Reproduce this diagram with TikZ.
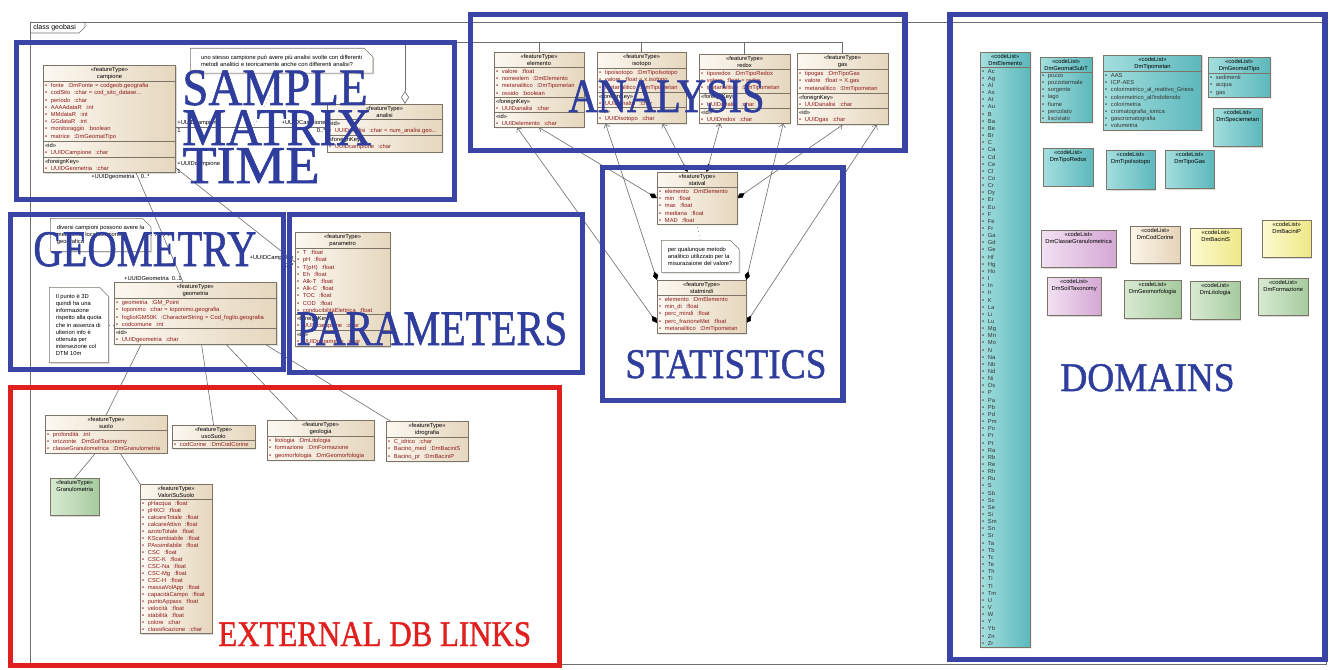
\documentclass[tikz,border=0pt]{standalone}
\usepackage{fontspec}
\usepackage{graphicx}
\setmainfont{Liberation Serif}
\newfontfamily\umlfont{Liberation Sans}
\newfontfamily\bigserif[FakeBold=1.2]{Liberation Serif}
\usepackage{tikz}
\usetikzlibrary{shapes.multipart}
\usetikzlibrary{shapes.misc}
\usetikzlibrary{shadows}
\usetikzlibrary{arrows.meta}
\usetikzlibrary{backgrounds}

\definecolor{frameblue}{HTML}{3A44A4}
\definecolor{labelblue}{HTML}{2F3D9C}
\definecolor{framered}{HTML}{E0201E}
\definecolor{ftlight}{HTML}{FCF8F1}
\definecolor{ftdark}{HTML}{E6D7BE}
\definecolor{umlline}{HTML}{7D7468}
\definecolor{attrred}{HTML}{8E1B1B}
\definecolor{litgray}{HTML}{333333}
\definecolor{linegray}{HTML}{6E6E6E}
\definecolor{teallight}{HTML}{A4DEDE}
\definecolor{tealdark}{HTML}{5CB8BC}
\definecolor{pinklight}{HTML}{F2E0F2}
\definecolor{pinkdark}{HTML}{D4A8D4}
\definecolor{yellowlight}{HTML}{FCFAD0}
\definecolor{yellowdark}{HTML}{EEE886}
\definecolor{greenlight}{HTML}{D8EAD2}
\definecolor{greendark}{HTML}{A6CB9F}
\definecolor{cornlight}{HTML}{FBF4EA}
\definecolor{corndark}{HTML}{E6D3B8}

\newcommand\umltext{\umlfont\fontsize{3.3}{4.1}\selectfont}
\newcommand\uattr[1]{\textcolor{attrred}{\textbullet\hspace{2.2pt}#1}}
\newcommand\ulit[1]{\textcolor{litgray}{\textbullet\hspace{2.2pt}#1}}
\newcommand\fthead[2]{\makebox[\hsize]{#1}\\\makebox[\hsize]{#2}}
\newcommand\arealabel[3]{\resizebox{#1pt}{#2pt}{\bigserif\fontsize{30}{30}\selectfont #3}}

\tikzset{
  ft/.style={rectangle split, rectangle split parts=#1, draw=umlline, line width=0.3pt,
    left color=ftlight, right color=ftdark, anchor=north west, align=left,
    inner xsep=1pt, inner ysep=0.9pt, font=\umltext,
    drop shadow={shadow xshift=0.7pt, shadow yshift=-0.7pt, opacity=0.3}},
  cl/.style={ft=#1, left color=teallight, right color=tealdark},
  pinkfill/.style={left color=pinklight, right color=pinkdark},
  yellowfill/.style={left color=yellowlight, right color=yellowdark},
  greenfill/.style={left color=greenlight, right color=greendark},
  cornfill/.style={left color=cornlight, right color=corndark},
  nohead/.style={rectangle split draw splits=false},
  note/.style={chamfered rectangle, chamfered rectangle corners=north east,
    chamfered rectangle xsep=2.5pt, chamfered rectangle ysep=2.5pt,
    draw=umlline, fill=white, line width=0.3pt, anchor=north west, align=left,
    inner sep=1.3pt, font=\umltext,
    drop shadow={shadow xshift=0.7pt, shadow yshift=-0.7pt, opacity=0.3}},
  assoc/.style={draw=linegray, line width=0.35pt},
  comp/.style={assoc, {Diamond[color=black, length=5pt, width=3pt]}-{Straight Barb[length=2pt, width=3.5pt]}},
  aggr/.style={assoc, {Diamond[fill=white, length=7.5pt, width=4.5pt]}-},
  notelink/.style={assoc, dotted},
  mult/.style={font=\umltext, inner sep=0.6pt},
  bluebox/.style={draw=frameblue, line width=3.4pt},
  redbox/.style={draw=framered, line width=3pt},
  biglabel/.style={text=labelblue, anchor=base west, inner sep=0pt},
}

\begin{document}
\begin{tikzpicture}[x=0.02cm, y=-0.02cm]
\useasboundingbox (0,0) rectangle (1331,669);

% diagram frame
\node[font=\umlfont\fontsize{4}{4.5}\selectfont, anchor=west, inner sep=0pt] (frametag) at (33,28) {class geobasi};

% sample, matrix, time
\node[ft=4, text width=73.4pt] (campione) at (43,65) {\fthead{«featureType»}{campione}
  \nodepart{two}\uattr{fonte \ :DmFonte = codgeob.geografia}\\\uattr{codSito \ :char = cod\_sito\_datase...}\\\uattr{periodo \ :char}\\\uattr{AAAAdataR \ :int}\\\uattr{MMdataR \ :int}\\\uattr{GGdataR \ :int}\\\uattr{monitoraggio \ :boolean}\\\uattr{matrice \ :DmGeomatTipo}
  \nodepart{three}«id»\\\uattr{UUIDCampione \ :char}
  \nodepart{four}«foreignKey»\\\uattr{UUIDGeometria \ :char}};
\node[note, minimum width=104pt, minimum height=14pt] (note1) at (190,48) {uno stesso campione può avere più analisi svolte con differenti\\metodi analitici e teoricamente anche con differenti analisi?};
\node[ft=3, text width=63.2pt] (analisi) at (327,104) {\fthead{«featureType»}{analisi}
  \nodepart{two}«id»\\\uattr{UUIDanalisi \ :char = num\_analisi.geo...}
  \nodepart{three}«foreignKey»\\\uattr{UUIDcampione \ :char}};

% analysis
\node[ft=4, text width=49pt] (elemento) at (494,52) {\fthead{«featureType»}{elemento}
  \nodepart{two}\uattr{valore \ :float}\\\uattr{nomeelem \ :DmElemento}\\\uattr{metanalitico \ :DmTipometan}\\\uattr{ossido \ :boolean}
  \nodepart{three}«foreignKey»\\\uattr{UUIDanalisi \ :char}
  \nodepart{four}«id»\\\uattr{UUIDelemento \ :char}};
\node[ft=4, text width=48.5pt] (isotopo) at (597,52) {\fthead{«featureType»}{isotopo}
  \nodepart{two}\uattr{tipoisotopo \ :DmTipoIsotopo}\\\uattr{valore \ :float = x.isotopo}\\\uattr{metanalitico \ :DmTipometan}
  \nodepart{three}«foreignKey»\\\uattr{UUIDanalisi \ :char}
  \nodepart{four}«id»\\\uattr{UUIDisotopo \ :char}};
\node[ft=4, text width=49.6pt] (redox) at (699,54) {\fthead{«featureType»}{redox}
  \nodepart{two}\uattr{tiporedox \ :DmTipoRedox}\\\uattr{valore \ :float = redox}\\\uattr{metanalitico \ :DmTipometan}
  \nodepart{three}«foreignKey»\\\uattr{UUIDanalisi \ :char}
  \nodepart{four}«id»\\\uattr{UUIDredox \ :char}};
\node[ft=4, text width=49.6pt] (gas) at (797,53) {\fthead{«featureType»}{gas}
  \nodepart{two}\uattr{tipogas \ :DmTipoGas}\\\uattr{valore \ :float = X.gas}\\\uattr{metanalitico \ :DmTipometan}
  \nodepart{three}«foreignKey»\\\uattr{UUIDanalisi \ :char}
  \nodepart{four}«id»\\\uattr{UUIDgas \ :char}};

% statistics
\node[ft=2, text width=43.4pt] (statval) at (657,172) {\fthead{«featureType»}{statval}
  \nodepart{two}\uattr{elemento \ :DmElemento}\\\uattr{min \ :float}\\\uattr{max \ :float}\\\uattr{mediana \ :float}\\\uattr{MAD \ :float}};
\node[note, minimum width=41pt] (note2) at (661,240) {per qualunque metodo\\analitico utilizzato per la\\misurazaione del valore?};
\node[ft=2, text width=48.5pt] (statmindi) at (657,280) {\fthead{«featureType»}{statmindi}
  \nodepart{two}\uattr{elemento \ :DmElemento}\\\uattr{min\_di \ :float}\\\uattr{perc\_mindi \ :float}\\\uattr{perc\_frazioneMet \ :float}\\\uattr{metanalitico \ :DmTipometan}};

% geometry
\node[note, minimum width=53pt] (note3) at (50,218) {diversi campioni possono avere la\\medesima localizzazione\\geografica};
\node[note, minimum width=30pt] (note4) at (49,287) {Il punto è 3D\\quindi ha una\\informazione\\rispetto alla quota\\che in assenza di\\ulteriori info è\\ottenuta per\\intersezione col\\DTM 10m};
\node[ft=3, text width=90.4pt] (geometria) at (114,282) {\fthead{«featureType»}{geometria}
  \nodepart{two}\uattr{geometria \ :GM\_Point}\\\uattr{toponimo \ :char = toponimo.geografia}\\\uattr{foglioIGM50K \ :CharacterString = Cod\_foglio.geografia}\\\uattr{codcomune \ :int}
  \nodepart{three}«id»\\\uattr{UUIDgeometria \ :char}};

% parameters
\node[ft=4, text width=51.9pt] (parametro) at (295,232) {\fthead{«featureType»}{parametro}
  \nodepart{two}\uattr{T \ :float}\\\uattr{pH \ :float}\\\uattr{T(pH) \ :float}\\\uattr{Eh \ :float}\\\uattr{Alk-T \ :float}\\\uattr{Alk-C \ :float}\\\uattr{TOC \ :float}\\\uattr{COD \ :float}\\\uattr{conducibilitàElettrica \ :float}
  \nodepart{three}«foreignKey»\\\uattr{UUIDcampione \ :char}
  \nodepart{four}«id»\\\uattr{UUIDparametro \ :char}};

% external db links
\node[ft=2, text width=67.2pt] (suolo) at (45,415) {\fthead{«featureType»}{suolo}
  \nodepart{two}\uattr{profondità \ :int}\\\uattr{orizzonte \ :DmSoilTaxonomy}\\\uattr{classeGranulometrica \ :DmGranulometria}};
\node[ft=2, text width=45pt] (usoSuolo) at (172,425) {\fthead{«featureType»}{usoSuolo}
  \nodepart{two}\uattr{codCorine \ :DmCodCorine}};
\node[ft=2, text width=58.7pt] (geologia) at (267,420) {\fthead{«featureType»}{geologia}
  \nodepart{two}\uattr{litologia \ :DmLitologia}\\\uattr{formazione \ :DmFormazione}\\\uattr{geomorfologia \ :DmGeomorfologia}};
\node[ft=2, text width=44.5pt] (idrografia) at (386,421) {\fthead{«featureType»}{idrografia}
  \nodepart{two}\uattr{C\_idrico \ :char}\\\uattr{Bacino\_med \ :DmBaciniS}\\\uattr{Bacino\_pr \ :DmBaciniP}};
\node[ft=2, nohead, greenfill, text width=25.8pt] (granulometria) at (50,478) {\fthead{«featureType»}{Granulometria}
  \nodepart{two}\rule{0pt}{10.5pt}};
\node[ft=2, text width=38.8pt, font=\umlfont\fontsize{3.3}{4.0}\selectfont] (valori) at (140,484) {\fthead{«featureType»}{ValoriSuSuolo}
  \nodepart{two}\uattr{pHacqua \ :float}\\\uattr{pHKCl \ :float}\\\uattr{calcareTotale \ :float}\\\uattr{calcareAttivo \ :float}\\\uattr{azotoTotale \ :float}\\\uattr{KScambiabile \ :float}\\\uattr{PAssimilabile \ :float}\\\uattr{CSC \ :float}\\\uattr{CSC-K \ :float}\\\uattr{CSC-Na \ :float}\\\uattr{CSC-Mg \ :float}\\\uattr{CSC-H \ :float}\\\uattr{massaVolApp \ :float}\\\uattr{capacitàCampo \ :float}\\\uattr{puntoAppass \ :float}\\\uattr{velocità \ :float}\\\uattr{stabilità \ :float}\\\uattr{colore \ :char}\\\uattr{classificazione \ :char}};

% domains
\node[cl=2, text width=26.4pt, font=\umlfont\fontsize{3.3}{4.07}\selectfont] (dmelemento) at (980,52) {\fthead{«codeList»}{DmElemento}
  \nodepart{two}\ulit{Ac}\\\ulit{Ag}\\\ulit{Al}\\\ulit{As}\\\ulit{At}\\\ulit{Au}\\\ulit{B}\\\ulit{Ba}\\\ulit{Be}\\\ulit{Br}\\\ulit{C}\\\ulit{Ca}\\\ulit{Cd}\\\ulit{Ce}\\\ulit{Cl}\\\ulit{Co}\\\ulit{Cr}\\\ulit{Dy}\\\ulit{Er}\\\ulit{Eu}\\\ulit{F}\\\ulit{Fe}\\\ulit{Fr}\\\ulit{Ga}\\\ulit{Gd}\\\ulit{Ge}\\\ulit{Hf}\\\ulit{Hg}\\\ulit{Ho}\\\ulit{I}\\\ulit{In}\\\ulit{Ir}\\\ulit{K}\\\ulit{La}\\\ulit{Li}\\\ulit{Lu}\\\ulit{Mg}\\\ulit{Mn}\\\ulit{Mo}\\\ulit{N}\\\ulit{Na}\\\ulit{Nb}\\\ulit{Nd}\\\ulit{Ni}\\\ulit{Os}\\\ulit{P}\\\ulit{Pa}\\\ulit{Pb}\\\ulit{Pd}\\\ulit{Pm}\\\ulit{Po}\\\ulit{Pr}\\\ulit{Pt}\\\ulit{Ra}\\\ulit{Rb}\\\ulit{Re}\\\ulit{Rh}\\\ulit{Ru}\\\ulit{S}\\\ulit{Sb}\\\ulit{Sc}\\\ulit{Se}\\\ulit{Si}\\\ulit{Sm}\\\ulit{Sn}\\\ulit{Sr}\\\ulit{Ta}\\\ulit{Tb}\\\ulit{Tc}\\\ulit{Te}\\\ulit{Th}\\\ulit{Ti}\\\ulit{Tl}\\\ulit{Tm}\\\ulit{U}\\\ulit{V}\\\ulit{W}\\\ulit{Y}\\\ulit{Yb}\\\ulit{Zn}\\\ulit{Zr}};
\node[cl=2, text width=27.5pt] (dmgeomatsubt) at (1040,57) {\fthead{«codeList»}{DmGeomatSubT}
  \nodepart{two}\ulit{pozzo}\\\ulit{pozzotermale}\\\ulit{sorgente}\\\ulit{lago}\\\ulit{fiume}\\\ulit{percolato}\\\ulit{lisciviato}};
\node[cl=2, text width=54pt] (dmtipometan) at (1103,55) {\fthead{«codeList»}{DmTipometan}
  \nodepart{two}\ulit{AAS}\\\ulit{ICP-AES}\\\ulit{colorimetrico\_al\_reattivo\_Griess}\\\ulit{colorimetrico\_all'indofenolo}\\\ulit{colorimetria}\\\ulit{cromatografia\_ionica}\\\ulit{gascromatografia}\\\ulit{volumetria}};
\node[cl=2, text width=33.2pt] (dmgeomattipo) at (1208,57) {\fthead{«codeList»}{DmGeomatTipo}
  \nodepart{two}\ulit{sedimenti}\\\ulit{acqua}\\\ulit{gas}};
\node[cl=2, nohead, text width=25.8pt] (dmspeciemetan) at (1213,108) {\fthead{«codeList»}{DmSpeciemetan}\nodepart{two}\rule{0pt}{10.5pt}};
\node[cl=2, nohead, text width=26.4pt] (dmtiporedox) at (1043,148) {\fthead{«codeList»}{DmTipoRedox}\nodepart{two}\rule{0pt}{10pt}};
\node[cl=2, nohead, text width=25.8pt] (dmtipoisotopo) at (1106,150) {\fthead{«codeList»}{DmTipoIsotopo}\nodepart{two}\rule{0pt}{11pt}};
\node[cl=2, nohead, text width=25.8pt] (dmtipogas) at (1165,150) {\fthead{«codeList»}{DmTipoGas}\nodepart{two}\rule{0pt}{10.5pt}};
\node[cl=2, nohead, pinkfill, text width=40.5pt] (dmclassegran) at (1041,230) {\fthead{«codeList»}{DmClasseGranulometrica}\nodepart{two}\rule{0pt}{10.5pt}};
\node[cl=2, nohead, cornfill, text width=26.4pt] (dmcodcorine) at (1130,226) {\fthead{«codeList»}{DmCodCorine}\nodepart{two}\rule{0pt}{10.5pt}};
\node[cl=2, nohead, yellowfill, text width=27pt] (dmbacinis) at (1190,228) {\fthead{«codeList»}{DmBaciniS}\nodepart{two}\rule{0pt}{10.5pt}};
\node[cl=2, nohead, yellowfill, text width=25.8pt] (dmbacinip) at (1262,220) {\fthead{«codeList»}{DmBaciniP}\nodepart{two}\rule{0pt}{10.5pt}};
\node[cl=2, nohead, pinkfill, text width=28.6pt] (dmsoiltax) at (1047,277) {\fthead{«codeList»}{DmSoilTaxonomy}\nodepart{two}\rule{0pt}{10.5pt}};
\node[cl=2, nohead, greenfill, text width=30.3pt] (dmgeomorf) at (1124,280) {\fthead{«codeList»}{DmGeomorfologia}\nodepart{two}\rule{0pt}{10.5pt}};
\node[cl=2, nohead, greenfill, text width=26.4pt] (dmlitologia) at (1190,281) {\fthead{«codeList»}{DmLitologia}\nodepart{two}\rule{0pt}{10.5pt}};
\node[cl=2, nohead, greenfill, text width=26.4pt] (dmformazione) at (1258,278) {\fthead{«codeList»}{DmFormazione}\nodepart{two}\rule{0pt}{10.5pt}};

% connectors
\begin{scope}[on background layer]
  \draw[linegray, line width=0.4pt] (30,22) rectangle (1326,664);
  \draw[linegray, line width=0.4pt] (30,33) -- (79,33) -- (85,27) -- (85,22);
  \coordinate (campan) at (0,127);
  \coordinate (aggtop) at (405,42);
  \draw[assoc] (campione.east |- campan) -- (analisi.west |- campan)
    node[mult, pos=0, anchor=south west] {+UUIDcampione}
    node[mult, pos=0, anchor=north west] {1}
    node[mult, pos=1, anchor=south east] {+UUIDCampione}
    node[mult, pos=1, anchor=north east] {0..*};
  \draw[assoc] (campione.east |- 0,168) -- (parametro.west |- 0,262)
    node[mult, pos=0, anchor=south west] {+UUIDcampione}
    node[mult, pos=0, anchor=north west] {1}
    node[mult, pos=1, anchor=south east] {+UUIDCampione}
    node[mult, pos=1, anchor=north east] {0..*};
  \draw[assoc] (campione.south -| 136,0) -- (geometria.north -| 183,0)
    node[mult, pos=0, anchor=north east] {+UUIDgeometria}
    node[mult, pos=0, anchor=north west, xshift=2pt] {0..*}
    node[mult, pos=1, anchor=south east] {+UUIDGeometria\ \ 0..1};
  \draw[notelink] (note1.south) -- ([xshift=-16pt]note1.south |- campan);
  \draw[notelink] (note3.east) -- ++(10pt,0);
  \draw[notelink] (note4.east) -- (geometria.west |- note4.east);
  \draw[notelink] (note2.north) -- (statval.south);
  % analysis to analisi
  \draw[aggr] (analisi.north -| aggtop) -- (aggtop) -- (aggtop -| gas.north) -- (gas.north);
  \draw[assoc] (aggtop -| elemento.north) -- (elemento.north);
  \draw[assoc] (aggtop -| isotopo.north) -- (isotopo.north);
  \draw[assoc] (aggtop -| redox.north) -- (redox.north);
  % statistics
  \draw[comp] (statval.west) -- (elemento.south);
  \draw[comp] (statmindi.200) -- ([xshift=-12.5pt]elemento.south);
  \draw[comp] (statmindi.north west) -- ([xshift=-20.5pt]isotopo.south);
  \draw[comp] (statval.110) -- ([xshift=12pt]isotopo.south);
  \draw[comp] (statval.70) -- ([xshift=-14pt]redox.south);
  \draw[comp] (statmindi.north east) -- ([xshift=22pt]redox.south);
  \draw[comp] (statval.east) -- (gas.south);
  \draw[comp] (statmindi.-20) -- ([xshift=19.5pt]gas.south);
  % external links
  \draw[assoc] ([xshift=-31pt]geometria.south) -- (suolo.north);
  \draw[assoc] ([xshift=3.5pt]geometria.south) -- (usoSuolo.north);
  \draw[assoc] ([xshift=17.6pt]geometria.south) -- ([xshift=-13pt]geologia.north);
  \draw[assoc] ([xshift=40pt]geometria.south) -- ([xshift=-21pt]idrografia.north);
  \draw[assoc] ([xshift=-6pt]suolo.south) -- (granulometria.north);
  \draw[assoc] ([xshift=8pt]suolo.south) -- (valori.north west);
\end{scope}

% areas
\draw[bluebox] (16.5,42.5) rectangle (454.5,199.5);
\draw[bluebox] (470.5,14.5) rectangle (904.5,150.5);
\draw[bluebox] (602.5,167.5) rectangle (842.5,400.5);
\draw[bluebox] (10.5,214.5) rectangle (283.5,369.5);
\draw[bluebox] (289.5,214.5) rectangle (582.5,372.5);
\draw[bluebox] (949.5,14.5) rectangle (1324.5,659.5);
\draw[redbox] (10.5,387.5) rectangle (559.5,665.5);

\node[biglabel] (lblsample) at (182,105) {\arealabel{105.5}{19.8}{SAMPLE}};
\node[biglabel] (lblmatrix) at (182,145) {\arealabel{107.7}{19.8}{MATRIX}};
\node[biglabel] (lbltime) at (182,183) {\arealabel{78.2}{19.8}{TIME}};
\node[biglabel] (lblgeom) at (33,266) {\arealabel{127}{19.3}{GEOMETRY}};
\node[biglabel] (lblparam) at (296,345) {\arealabel{154.2}{18.7}{PARAMETERS}};
\node[biglabel] (lblanalysis) at (568,112) {\arealabel{111.7}{18.1}{ANALYSIS}};
\node[biglabel] (lblstat) at (625,378) {\arealabel{114.5}{15.9}{STATISTICS}};
\node[biglabel] (lbldomains) at (1060,391) {\arealabel{99.2}{15.3}{DOMAINS}};
\node[biglabel, text=framered] (lblext) at (218,646) {\arealabel{178}{13.6}{EXTERNAL DB LINKS}};
\end{tikzpicture}
\end{document}
